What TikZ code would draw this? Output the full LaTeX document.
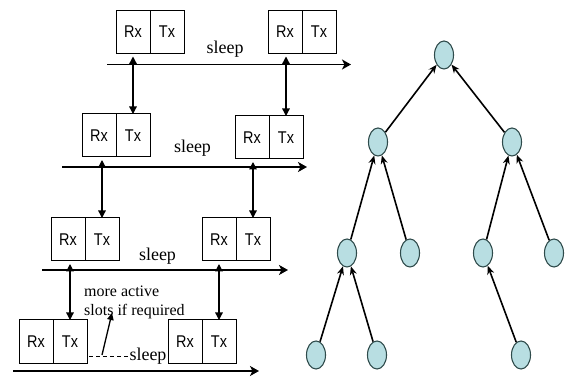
\documentclass[tikz,border=0pt]{standalone}
\usepackage{fontspec}
\setmainfont{Liberation Serif}
\newfontfamily\rxfont[FakeStretch=0.85]{Liberation Sans}
\usetikzlibrary{arrows.meta,shapes.geometric}
\definecolor{nodefill}{HTML}{B8DEE2}
\definecolor{nodeline}{HTML}{2F4B4B}
\begin{document}
\begin{tikzpicture}[x=1pt,y=-1pt,
  half/.style={draw, line width=1pt, minimum width=34pt, minimum height=43pt,
    inner sep=0pt, outer sep=0pt, font=\rxfont\fontsize{17}{18}\selectfont},
  halfr/.style={half, anchor=west},
  sleeplbl/.style={inner sep=0pt, font=\fontsize{18}{20}\selectfont},
  timeline/.style={line width=1.8pt, -{Stealth[length=9pt,width=10pt,inset=2.5pt]}},
  varrow/.style={line width=1.3pt, {Triangle[length=7.5pt,width=7.5pt]}-{Triangle[length=7.5pt,width=7.5pt]}, shorten <=3pt},
  tnode/.style={shape=ellipse, draw=nodeline, fill=nodefill, line width=1.1pt,
    minimum width=19pt, minimum height=28pt, inner sep=0pt},
  tedge/.style={line width=1.6pt, -{Stealth[length=8.5pt,width=7pt]}}
]
\useasboundingbox (0,0) rectangle (565,379);

% ---- Rx/Tx boxes ----
\node[half] (r1a) at (133,32) {Rx};  \node[halfr] (r1b) at (r1a.east) {Tx};
\node[half] (r1c) at (285,32) {Rx};  \node[halfr] (r1d) at (r1c.east) {Tx};
\node[half] (r2a) at (99,135.5) {Rx};  \node[halfr] (r2b) at (r2a.east) {Tx};
\node[half] (r2c) at (252,137.5) {Rx}; \node[halfr] (r2d) at (r2c.east) {Tx};
\node[half] (r3a) at (68,239.5) {Rx};  \node[halfr] (r3b) at (r3a.east) {Tx};
\node[half] (r3c) at (219,239.5) {Rx}; \node[halfr] (r3d) at (r3c.east) {Tx};
\node[half] (r4a) at (36,341.5) {Rx};  \node[halfr] (r4b) at (r4a.east) {Tx};
\node[half] (r4c) at (185,341.5) {Rx}; \node[halfr] (r4d) at (r4c.east) {Tx};

% ---- time lines ----
\coordinate (h1s) at (107,64.5);  \coordinate (h1e) at (351,64.5);
\coordinate (h2s) at (62,167);    \coordinate (h2e) at (307,167);
\coordinate (h3s) at (42,270);    \coordinate (h3e) at (288,270);
\coordinate (h4s) at (13,371);    \coordinate (h4e) at (259,371);
\draw[timeline] (h1s) -- (h1e);
\draw[timeline] (h2s) -- (h2e);
\draw[timeline] (h3s) -- (h3e);
\draw[timeline] (h4s) -- (h4e);

% ---- sleep labels ----
\node[sleeplbl] (s1) at (225,49) {sleep};
\node[sleeplbl] (s2) at (192.5,148.5) {sleep};
\node[sleeplbl] (s3) at (157.5,256) {sleep};
\node[sleeplbl] (s4) at (148,356) {sleep};
\draw[line width=1pt, dash pattern=on 4pt off 3pt] ([xshift=2pt]r4b.east |- s4.west) -- (s4.west);

% ---- vertical arrows ----
\draw[varrow] (r2b.north |- r1a.south) -- (r2b.north);
\draw[varrow] (r2d.north |- r1c.south) -- (r2d.north);
\draw[varrow] (r3b.north |- r2a.south) -- (r3b.north);
\draw[varrow] (r3d.north |- r2c.south) -- (r3d.north);
\draw[varrow] (r4b.north |- r3a.south) -- (r4b.north);
\draw[varrow] (r4d.north |- r3c.south) -- (r4d.north);

% ---- note ----
\node[anchor=west, inner sep=0pt, align=left, font=\fontsize{16}{19}\selectfont] (note) at (84,302.5)
  {more active\\slots if required};
\coordinate (pa) at (102,355);
\coordinate (pb) at (112,313);
\draw[line width=1.3pt, -{Triangle[length=7pt,width=6.5pt]}] (pa) -- (pb);

% ---- tree ----
\node[tnode] (root) at (444,55) {};
\node[tnode] (L) at (378,142) {};
\node[tnode] (R) at (512,142) {};
\node[tnode] (LL) at (347,253) {};
\node[tnode] (LR) at (410,253) {};
\node[tnode] (RL) at (483,253) {};
\node[tnode] (RR) at (554,253) {};
\node[tnode] (LLL) at (316,355) {};
\node[tnode] (LLR) at (377,355) {};
\node[tnode] (RLL) at (521,355) {};
\draw[tedge] (L) -- (root);
\draw[tedge] (R) -- (root);
\draw[tedge] (LL) -- (L);
\draw[tedge] (LR) -- (L);
\draw[tedge] (RL) -- (R);
\draw[tedge] (RR) -- (R);
\draw[tedge] (LLL) -- (LL);
\draw[tedge] (LLR) -- (LL);
\draw[tedge] (RLL) -- (RL);
\end{tikzpicture}
\end{document}
